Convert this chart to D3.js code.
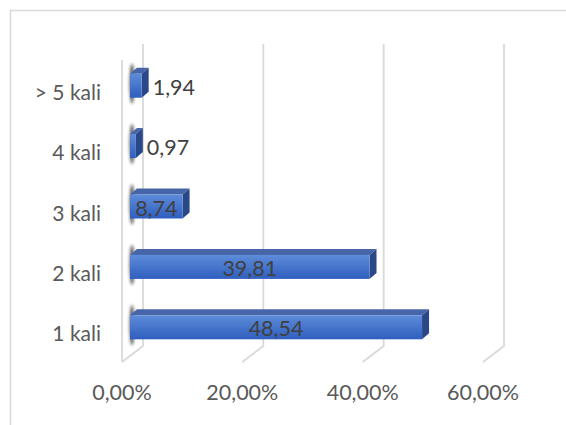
<!DOCTYPE html>
<html><head><meta charset="utf-8">
<script src="https://cdn.jsdelivr.net/npm/d3@7"></script>
<style>body{margin:0;background:#fff}svg{display:block}</style>
</head><body>
<script>
const categories = ["> 5 kali", "4 kali", "3 kali", "2 kali", "1 kali"];
const values = [1.94, 0.97, 8.74, 39.81, 48.54];
const valueLabels = ["1,94", "0,97", "8,74", "39,81", "48,54"];
const ticks = [0, 20, 40, 60];
const tickLabels = ["0,00%", "20,00%", "40,00%", "60,00%"];

const W = 566, H = 425;
const svg = d3.select("body").append("svg").attr("width", W).attr("height", H);
const defs = svg.append("defs");
const g1 = defs.append("linearGradient").attr("id","front").attr("x1",0).attr("y1",0).attr("x2",0).attr("y2",1);
g1.append("stop").attr("offset","0%").attr("stop-color","#5d8cd9");
g1.append("stop").attr("offset","100%").attr("stop-color","#2f5ebf");
defs.append("filter").attr("id","blur").attr("x","-100%").attr("y","-50%").attr("width","300%").attr("height","200%")
  .append("feGaussianBlur").attr("stdDeviation", 1.8);

svg.append("rect").attr("x",10.5).attr("y",10.5).attr("width",700).attr("height",600)
  .attr("fill","#fff").attr("stroke","#d9d9d9").attr("stroke-width",1.5);

const x = d3.scaleLinear().domain([0, 60]).range([122, 483]);
const y = d3.scaleBand().domain(categories).range([60, 362]);
const wall = {dx: 21, dy: -16};
const barOff = {dx: 8, dy: -4.5};
const depth = {dx: 7, dy: -6};
const bh = 24;
const font = "Lato, 'Open Sans', sans-serif";

const grid = svg.append("g").attr("stroke","#d9d9d9").attr("stroke-width",1.8).attr("fill","none");
ticks.forEach(t => {
  grid.append("path").attr("d", `M${x(t)+wall.dx},${60+wall.dy}V${362+wall.dy}L${x(t)},362`);
});
grid.append("line").attr("x1",x(0)).attr("x2",x(0)).attr("y1",60).attr("y2",362);

// tick labels
svg.append("g").selectAll("text").data(ticks).join("text")
  .attr("x", d => x(d)).attr("y", 392).attr("text-anchor","middle").attr("dominant-baseline","central")
  .attr("font-family",font).attr("font-size",21.5).attr("fill","#595959")
  .text((d,i) => tickLabels[i]);

// category labels
svg.append("g").selectAll("text").data(categories).join("text")
  .attr("x", 101).attr("y", d => y(d) + y.bandwidth()/2 + 1).attr("text-anchor","end").attr("dominant-baseline","central")
  .attr("font-family",font).attr("font-size",21).attr("fill","#595959")
  .text(d => d);

const bars = svg.append("g");
categories.forEach((c, i) => {
  const v = values[i];
  const yc = y(c) + y.bandwidth()/2 + barOff.dy;
  const x0 = x(0) + barOff.dx, x1 = x(v) + barOff.dx;
  const yT = yc - bh/2, yB = yc + bh/2;
  bars.append("ellipse").attr("cx", x0 + 2).attr("cy", yc - 2).attr("rx", 2.5).attr("ry", 20)
    .attr("fill","#222").attr("opacity",0.75).attr("filter","url(#blur)");
  bars.append("path").attr("d", `M${x0},${yT}L${x1},${yT}L${x1+depth.dx},${yT+depth.dy}L${x0+depth.dx},${yT+depth.dy}Z`)
    .attr("fill","#4766a9");
  bars.append("path").attr("d", `M${x1},${yT}L${x1+depth.dx},${yT+depth.dy}L${x1+depth.dx},${yB+depth.dy}L${x1},${yB}Z`)
    .attr("fill","#2a4888");
  bars.append("rect").attr("x", x0).attr("y", yT).attr("width", Math.max(0, x1 - x0)).attr("height", bh)
    .attr("fill","url(#front)");
  const inside = v >= 5;
  bars.append("text")
    .attr("x", inside ? (x0 + x1)/2 : x1 + 11).attr("y", yc + 1)
    .attr("text-anchor", inside ? "middle" : "start").attr("dominant-baseline","central")
    .attr("font-family",font).attr("font-size",21.5).attr("fill","#404040")
    .text(valueLabels[i]);
});
</script>
</body></html>
